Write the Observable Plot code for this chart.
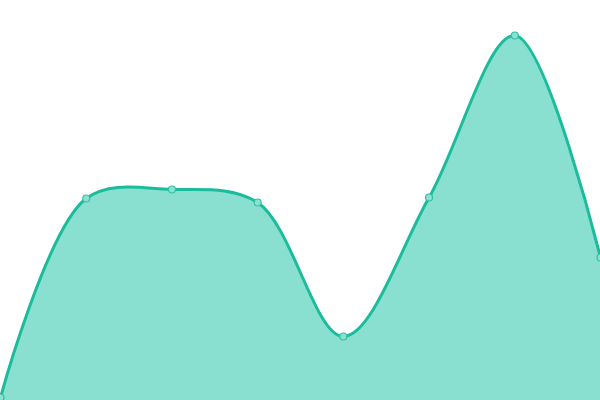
<!DOCTYPE html>
<html>
<head>
<meta charset="utf-8">
<script src="https://cdn.jsdelivr.net/npm/d3@7"></script>
<script src="https://cdn.jsdelivr.net/npm/@observablehq/plot@0.6"></script>
<style>
  html, body { margin: 0; padding: 0; background: #fff; }
  #chart svg { display: block; }
</style>
</head>
<body>
<div id="chart"></div>
<script>
const xIndex = [0, 1, 2, 3, 4, 5, 6, 7];
const values = [3, 202, 211, 198, 64, 203, 365, 143];

const data = xIndex.map((x, i) => ({x, y: values[i]}));

const chart = Plot.plot({
  width: 600,
  height: 400,
  margin: 0,
  x: {domain: [0, 7], axis: null},
  y: {domain: [0, 400], axis: null},
  marks: [
    Plot.areaY(data, {x: "x", y: "y", curve: "catmull-rom", fill: "#89e0d0"}),
    Plot.line(data, {x: "x", y: "y", curve: "catmull-rom", stroke: "#1abc9c", strokeWidth: 3}),
    Plot.dot(data, {x: "x", y: "y", r: 3.5, fill: "#8be0d0", stroke: "#2fc2a5", strokeWidth: 1.2})
  ]
});
document.getElementById("chart").appendChild(chart);
</script>
</body>
</html>
